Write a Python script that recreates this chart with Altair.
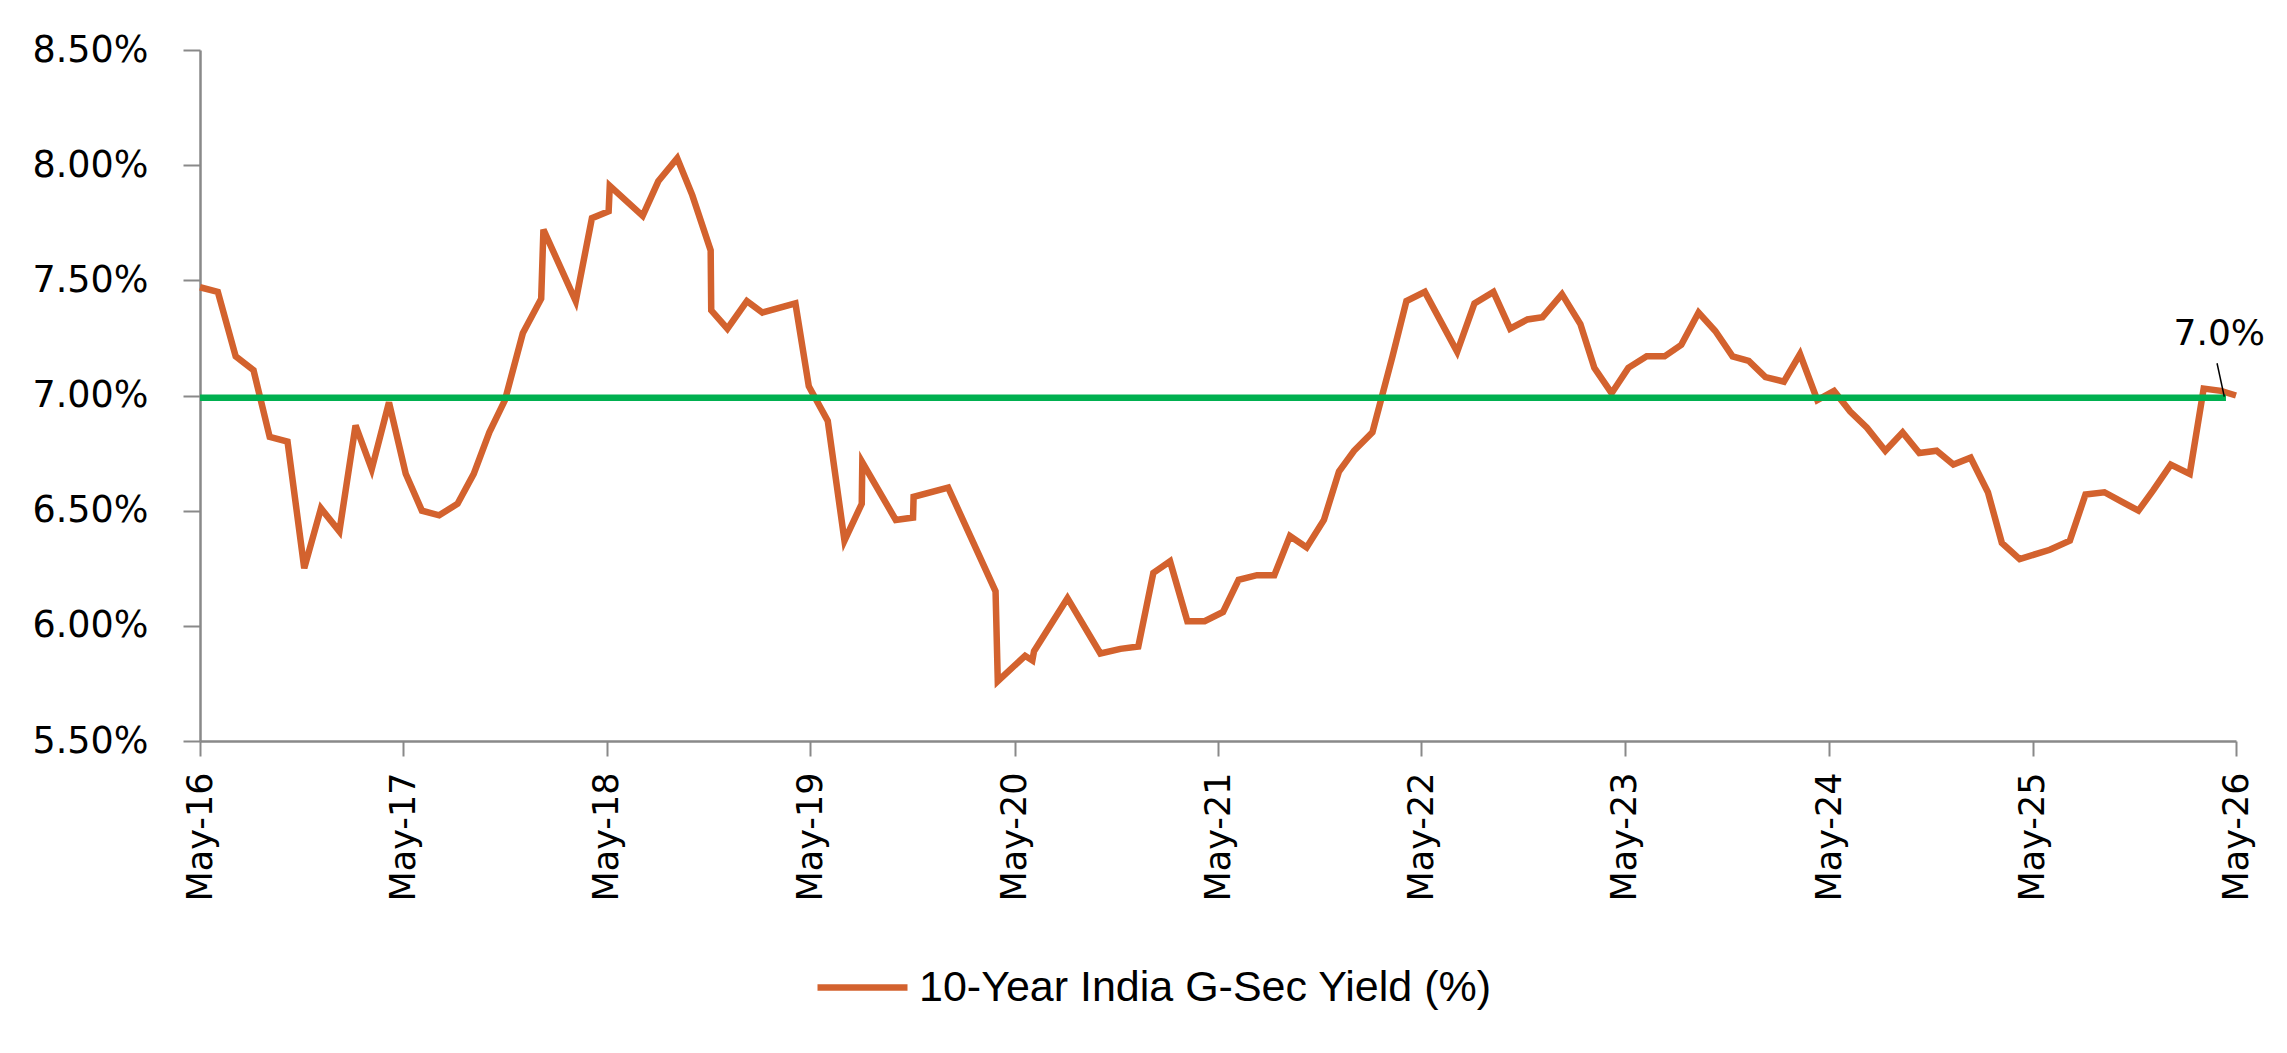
import altair as alt
import pandas as pd

# ---------------- data ----------------
series_name = "10-Year India G-Sec Yield (%)"

dates = [
    "2016-05-01", "2016-06-02", "2016-07-04", "2016-08-05", "2016-09-03", "2016-10-05",
    "2016-11-04", "2016-12-04", "2017-01-06", "2017-02-04", "2017-03-05", "2017-04-05",
    "2017-05-05", "2017-06-03", "2017-07-04", "2017-08-06", "2017-09-04", "2017-10-02",
    "2017-10-30", "2017-12-01", "2018-01-03", "2018-01-07", "2018-03-06", "2018-04-04",
    "2018-05-04", "2018-05-06", "2018-07-04", "2018-08-01", "2018-09-04", "2018-10-01",
    "2018-11-03", "2018-11-04", "2018-12-03", "2019-01-07", "2019-02-04", "2019-04-04",
    "2019-04-28", "2019-06-01", "2019-07-01", "2019-08-01", "2019-08-02", "2019-10-01",
    "2019-11-01", "2019-11-02", "2020-01-03", "2020-03-28", "2020-04-01", "2020-05-20",
    "2020-06-02", "2020-06-05", "2020-08-04", "2020-10-02", "2020-11-07", "2020-12-09",
    "2021-01-05", "2021-02-04", "2021-03-07", "2021-04-07", "2021-05-10", "2021-06-07",
    "2021-07-10", "2021-08-10", "2021-09-07", "2021-10-07", "2021-11-07", "2021-12-04",
    "2021-12-31", "2022-02-02", "2022-03-10", "2022-04-04", "2022-05-07", "2022-07-04",
    "2022-08-04", "2022-09-07", "2022-10-07", "2022-11-07", "2022-12-04", "2023-01-08",
    "2023-02-10", "2023-03-07", "2023-04-07", "2023-05-07", "2023-06-09", "2023-07-11",
    "2023-08-10", "2023-09-10", "2023-10-10", "2023-11-10", "2023-12-09", "2024-01-08",
    "2024-02-10", "2024-03-10", "2024-04-10", "2024-05-10", "2024-06-08", "2024-07-08",
    "2024-08-10", "2024-09-10", "2024-10-10", "2024-11-10", "2024-12-10", "2025-01-10",
    "2025-02-10", "2025-03-07", "2025-04-08", "2025-06-01", "2025-07-07", "2025-08-04",
    "2025-09-07", "2025-10-07", "2025-11-07", "2025-12-04", "2026-01-04", "2026-02-07",
    "2026-03-04", "2026-04-04", "2026-05-01",
]

yields = [
    7.47, 7.45, 7.17, 7.11, 6.82, 6.80,
    6.25, 6.51, 6.41, 6.87, 6.68, 6.97,
    6.66, 6.50, 6.48, 6.53, 6.66, 6.84,
    6.98, 7.27, 7.42, 7.72, 7.41, 7.77,
    7.80, 7.91, 7.78, 7.93, 8.03, 7.87,
    7.63, 7.37, 7.29, 7.41, 7.36, 7.40,
    7.04, 6.89, 6.37, 6.53, 6.71, 6.46,
    6.47, 6.56, 6.60, 6.15, 5.76, 5.87,
    5.85, 5.89, 6.12, 5.88, 5.90, 5.91,
    6.23, 6.28, 6.02, 6.02, 6.06, 6.20,
    6.22, 6.22, 6.39, 6.34, 6.46, 6.67,
    6.76, 6.84, 7.17, 7.41, 7.45, 7.19,
    7.40, 7.45, 7.29, 7.33, 7.34, 7.44,
    7.31, 7.12, 7.01, 7.12, 7.17, 7.17,
    7.22, 7.36, 7.28, 7.17, 7.15, 7.08,
    7.06, 7.18, 6.98, 7.02, 6.93, 6.86,
    6.76, 6.84, 6.75, 6.76, 6.70, 6.73,
    6.58, 6.36, 6.29, 6.33, 6.37, 6.57,
    6.58, 6.54, 6.50, 6.59, 6.70, 6.66,
    7.03, 7.02, 7.00,
]

benchmark_dates = ["2016-05-01", "2026-04-13"]
benchmark_values = [6.99, 6.99]

label_dates = ["2026-04-01"]
label_values = [7.22]
label_texts = ["7.0%"]

leader_top_dates = ["2026-03-28"]
leader_top_values = [7.14]
leader_bottom_dates = ["2026-04-10"]
leader_bottom_values = [6.995]

tick_years = [2016, 2017, 2018, 2019, 2020, 2021, 2022, 2023, 2024, 2025, 2026]
y_ticks = [5.5, 6.0, 6.5, 7.0, 7.5, 8.0, 8.5]

# ---------------- styling ----------------
ORANGE = "#D3622E"
GREEN = "#00B050"
AXIS_GREY = "#898989"
AXIS_FONT = "DejaVu Sans"

def iso(d):
    return d + "T00:00:00"

yield_df = pd.DataFrame({
    "date": [iso(d) for d in dates],
    "yield": yields,
    "series": [series_name] * len(dates),
})
bench_df = pd.DataFrame({"date": [iso(d) for d in benchmark_dates], "yield": benchmark_values})
label_df = pd.DataFrame({"date": [iso(d) for d in label_dates], "yield": label_values, "text": label_texts})
leader_df = pd.DataFrame({
    "d1": [iso(d) for d in leader_top_dates], "v1": leader_top_values,
    "d2": [iso(d) for d in leader_bottom_dates], "v2": leader_bottom_values,
})

x_scale = alt.Scale(domain=[alt.DateTime(year=2016, month=5, date=1),
                            alt.DateTime(year=2026, month=5, date=1)])
y_scale = alt.Scale(domain=[5.5, 8.5], nice=False, zero=False)

x_axis = alt.Axis(
    values=[alt.DateTime(year=y, month=5, date=1) for y in tick_years],
    format="%b-%y", labelAngle=-90, title=None, grid=False,
    labelFont=AXIS_FONT, labelFontSize=35, labelColor="#000000",
    labelPadding=16, tickSize=15, tickColor=AXIS_GREY, tickWidth=2,
    domainColor=AXIS_GREY, domainWidth=2.5, labelOverlap=False, labelFlush=False,
)
y_axis = alt.Axis(
    values=y_ticks, labelExpr="format(datum.value, '.2f') + '%'", title=None, grid=False,
    labelFont=AXIS_FONT, labelFontSize=36.5, labelColor="#000000",
    labelPadding=35, tickSize=17, tickColor=AXIS_GREY, tickWidth=2,
    domainColor=AXIS_GREY, domainWidth=2.5,
)

yield_line = alt.Chart(yield_df).mark_line(strokeWidth=6.5, clip=False).encode(
    x=alt.X("date:T", scale=x_scale, axis=x_axis),
    y=alt.Y("yield:Q", scale=y_scale, axis=y_axis),
    color=alt.Color(
        "series:N",
        scale=alt.Scale(domain=[series_name], range=[ORANGE]),
        legend=alt.Legend(
            title=None, orient="none", legendX=614, legendY=889,
            symbolType="stroke", symbolSize=8100, symbolStrokeWidth=6.5,
            labelFont="Liberation Sans", labelFontSize=43, labelColor="#000000",
            labelOffset=8, labelLimit=2000, padding=0,
        ),
    ),
)

bench_line = alt.Chart(bench_df).mark_line(strokeWidth=6.5, color=GREEN).encode(
    x=alt.X("date:T", scale=x_scale),
    y=alt.Y("yield:Q", scale=y_scale),
)

leader = alt.Chart(leader_df).mark_rule(color="#000000", strokeWidth=1.5).encode(
    x=alt.X("d1:T", scale=x_scale), y=alt.Y("v1:Q", scale=y_scale),
    x2="d2:T", y2="v2:Q",
)

label = alt.Chart(label_df).mark_text(
    font=AXIS_FONT, fontSize=36, color="#000000", align="center", baseline="alphabetic",
).encode(
    x=alt.X("date:T", scale=x_scale), y=alt.Y("yield:Q", scale=y_scale), text="text:N",
)

chart = alt.layer(yield_line, bench_line, leader, label).properties(
    width=2036, height=691,
    padding={"left": 200, "top": 50, "right": 51, "bottom": 312},
    autosize=alt.AutoSizeParams(type="none"),
    background="#FFFFFF",
).configure_view(stroke=None)

chart.save("out.html", embed_options={"renderer": "svg", "actions": False})
